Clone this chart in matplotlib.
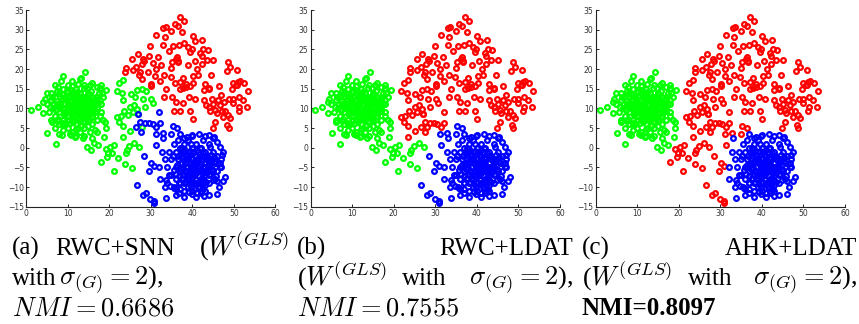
import matplotlib
matplotlib.use('Agg')
import matplotlib.pyplot as plt
import numpy as np

# point coordinates (same points in all three panels)
red_x = [37.1, 38.1, 35.8, 36.5, 33.6, 33.0, 35.0, 37.6, 31.4, 40.1, 33.4, 42.4, 40.7, 38.1, 36.9,
         29.9, 33.0, 35.4, 39.1, 39.9, 42.7, 43.7, 34.3, 39.5, 26.9, 29.6, 31.8, 36.4, 41.9, 42.3,
         25.5, 28.2, 28.4, 35.2, 36.6, 40.6, 43.5, 45.1, 42.3, 23.9, 25.7, 27.4, 29.3, 31.1, 33.2,
         34.8, 37.9, 40.3, 41.5, 48.6, 49.1, 50.9, 48.3, 27.2, 28.0, 30.2, 30.2, 32.2, 35.8, 37.1,
         38.6, 39.5, 40.3, 44.1, 46.4, 42.8, 44.1, 49.9, 51.0, 50.6, 51.5, 50.9, 52.5, 53.5, 33.8,
         37.1, 37.9, 38.5, 33.3, 35.1, 37.7, 40.7, 42.9, 44.8, 46.2, 43.3, 44.1, 45.1, 46.7, 47.6,
         48.9, 49.9, 51.3, 49.9, 51.3, 53.2, 51.2, 35.6, 37.1, 39.5, 40.1, 45.6, 47.1, 47.9, 48.7,
         49.1, 47.5, 45.5, 48.4, 48.8, 44.9, 45.9, 44.3, 36.2, 36.6, 26.5, 24.0,
         32.6, 34.9, 38.9, 41.2, 30.5, 27.8, 44.6, 46.9, 52.2, 49.6, 39.2, 36.0, 31.2, 43.0]
red_y = [33.1, 32.2, 31.4, 31.0, 30.8, 30.3, 29.7, 29.5, 28.6, 28.4, 28.2, 27.4, 27.0, 26.7, 26.1,
         25.9, 26.0, 25.8, 25.5, 25.1, 25.0, 24.8, 24.7, 24.4, 23.7, 23.4, 23.1, 23.0, 24.0, 23.3,
         22.5, 22.6, 22.0, 21.9, 22.1, 22.1, 22.3, 22.4, 21.4, 19.3, 19.7, 19.3, 19.2, 18.3, 18.5,
         17.9, 17.7, 18.1, 18.6, 21.8, 20.6, 19.8, 19.5, 18.4, 17.5, 15.8, 16.3, 16.9, 16.4, 16.6,
         16.3, 15.8, 16.5, 15.1, 15.6, 14.6, 14.8, 16.4, 16.6, 16.0, 17.0, 15.9, 16.5, 14.4, 14.8,
         14.8, 15.1, 15.5, 13.0, 13.0, 11.3, 12.5, 12.1, 12.4, 12.1, 10.8, 10.4, 11.1, 10.8, 11.7,
         12.5, 12.4, 13.0, 11.3, 10.4, 10.4, 9.2, 9.4, 9.4, 9.4, 7.2, 9.6, 9.4, 9.2, 8.3,
         7.5, 7.7, 6.5, 5.8, 4.9, 4.9, 8.7, 9.2, 22.5, 21.7, 20.5, 20.3,
         21.0, 20.2, 20.9, 19.9, 21.6, 21.2, 18.6, 13.4, 12.0, 14.9, 12.9, 11.6, 20.0, 16.2]

green_x = [6, 6.5, 7, 7, 7.5, 8, 8, 8, 8.5, 9, 9, 9, 9.5, 10, 10, 10, 10, 10.5, 10.5, 11,
           11, 11, 11, 11.5, 11.5, 12, 12, 12, 12, 12, 12.5, 12.5, 13, 13, 13, 13, 13.5, 13.5, 14, 14,
           14, 14, 14, 14.5, 15, 15, 15, 15, 15.5, 16, 16, 16, 16, 16.5, 17, 17, 17, 17.5, 18, 18,
           17, 15.5, 13, 11, 9, 7, 6, 5.5, 6, 7, 8.5, 11, 13, 15.5, 17, 18.5, 18.5, 16, 14, 12,
           10.5, 8, 5, 4.5, 9.5, 12.5, 15, 16.5, 7.5, 18,
           1.1, 2.8, 4.2, 5.0, 5.1, 7.1, 9.0, 14.2, 13.2, 16.0, 14.7, 15.6, 16.4, 17.3, 13.6, 18.8,
           19.2, 19.1, 19.3, 17.8, 18.2, 17.8, 10.8, 8.6, 11.8, 7.8, 4.2, 6.2,
           7.3, 8.2, 9.4, 10.7, 11.8, 12.9, 14.3, 15.6, 16.8, 7.8, 9.1, 10.3, 11.4, 12.6, 13.7, 14.9,
           16.2, 17.4, 8.6, 9.8, 10.9, 12.2, 13.4, 14.6, 15.8, 6.8, 8.9, 10.1, 11.3, 12.8, 13.9, 15.2,
           16.4, 9.3, 10.6, 11.7, 13.1, 14.4, 15.7, 7.6, 11.1, 12.4, 14.8, 10.2, 13.3, 8.3, 16.7, 17.8,
           5.8, 6.3,
           8.8, 9.7, 10.4, 11.2, 12.1, 13.2, 14.1, 15.3, 16.1, 9.2, 10.8, 11.9, 13.6, 14.7, 15.9, 8.1,
           9.9, 11.6, 12.7, 13.8, 15.1, 16.6, 10.3, 11.4, 12.3, 14.2, 7.2, 8.4, 9.6, 13.0, 14.5, 15.4,
           16.9, 10.9, 12.5, 11.0, 13.5, 9.0, 14.0, 12.0]
green_y = [12, 10, 8, 13, 11, 9, 14, 6, 12, 10, 7, 15, 13, 11, 8, 5, 16, 9, 13, 10,
           12, 7, 14, 9, 11, 10, 8, 13, 15, 6, 11, 9, 10, 12, 7, 14, 9, 11, 10, 8,
           13, 16, 5, 11, 9, 12, 7, 14, 10, 11, 8, 13, 6, 9, 10, 12, 7, 14, 9, 11,
           4, 4, 4, 4, 4.5, 5, 7, 9, 14, 16, 17, 17, 17.5, 16, 15.5, 13, 7, 2.5, 3, 3,
           3.5, 3.5, 11, 12.5, 6, 5, 5.5, 4.5, 14.5, 16,
           9.7, 10.4, 11.5, 14.0, 3.8, 0.9, 18.1, 19.2, 17.7, 16.4, 0.3, -0.6, 1.3, 0.8, 2.4, 2.8,
           4.9, 6.6, 14.7, 15.1, 13.9, 12.2, 3.2, 3.2, 2.8, 15.5, 8.7, 6.6,
           9.6, 11.3, 12.6, 8.7, 13.4, 10.8, 9.2, 11.7, 12.8, 7.4, 8.3, 10.4, 6.6, 9.4, 12.1, 10.3,
           9.7, 11.4, 13.6, 11.8, 14.7, 12.4, 8.4, 10.9, 7.8, 11.2, 5.7, 13.1, 9.7, 7.3, 15.2, 13.3,
           10.6, 9.1, 6.2, 11.6, 13.8, 7.7, 14.4, 6.9, 8.8, 16.2, 15.1, 14.2, 5.6, 10.7, 12.3, 8.1,
           10.3, 12.9,
           10.1, 12.2, 9.3, 11.1, 12.9, 11.6, 10.5, 8.6, 10.2, 8.9, 11.9, 9.8, 10.4, 12.6, 11.1, 12.9,
           14.4, 13.2, 7.6, 9.8, 13.7, 11.2, 7.1, 8.1, 14.1, 11.4, 9.5, 10.6, 9.0, 8.9, 7.3, 12.2,
           9.4, 10.5, 12.0, 15.6, 13.0, 6.3, 6.8, 4.8]

blue_x = [35, 35, 35.5, 35.5, 36, 36, 36, 36.5, 36.5, 37, 37, 37, 37.5, 37.5, 38, 38, 38, 38.5, 38.5,
          39, 39, 39, 39.5, 39.5, 40, 40, 40, 40, 40.5, 40.5, 41, 41, 41, 41.5, 41.5, 42, 42, 42,
          42.5, 42.5, 43, 43, 43, 43, 43.5, 44, 44, 44, 44.5, 45, 45, 45.5, 45.5, 46, 46, 47, 47,
          34.5, 34, 34, 33.5, 36, 38, 41, 42, 44, 46.5, 47.5, 47.5, 46, 45, 43, 40, 38, 37, 36,
          34.5, 39, 41, 43, 37, 44, 38,
          41.6, 39.9, 38.7, 44.1, 45.3, 44.3, 46.7, 47.1, 46.8, 48.0, 46.0, 46.0, 42.8, 41.1,
          39.9, 36.8, 35.7,
          36.3, 37.4, 38.6, 39.7, 40.8, 41.9, 43.1, 44.3, 45.4, 36.8, 37.9, 39.2, 40.3, 41.4, 42.7,
          43.8, 44.9, 46.2, 35.6, 38.1, 39.4, 40.6, 41.7, 42.9, 44.1, 37.2, 38.4, 39.8, 41.1, 42.3,
          43.6, 36.1, 37.6, 40.1, 42.1, 44.6, 45.8, 39.1, 41.3, 38.8, 40.7, 43.3, 35.3, 46.7, 37.8,
          42.6, 39.6, 41.8, 44.4, 40.4,
          37.3, 38.2, 39.3, 40.2, 41.2, 42.2, 43.2, 44.2, 38.7, 39.9, 40.9, 41.6, 42.4, 43.4, 37.7,
          39.0, 40.0, 41.0, 42.0, 43.9, 36.6, 38.4, 39.5, 40.5, 41.5, 42.5, 44.8, 45.2, 36.9, 38.9,
          40.9, 42.8, 37.5, 39.7, 41.9, 43.5, 40.2, 38.1, 42.2, 39.3]
blue_y = [-3, -7, 1, -10, -1, -5, -8, 2, -3, -6, 0, -9, -2, -4, 1, -7, -11, -3, -5,
          -1, -8, 2, -4, -6, 0, -3, -9, -11, -5, -7, -2, 1, -4, -6, -10, -3, 0, -8,
          -5, 2, -1, -4, -7, -11, -2, -5, -9, 1, -3, -6, -1, -8, -4, -2, -6, -5, -3,
          -1, -5, -9, -3, -12, -12.5, -12.5, -11.5, -12, -10, -8.5, -1, 1.5, 2.5, 3, 3.3, 2.5, 3.5, -10.5,
          -7, -10, -9, -9.5, -10.5, -7, -9,
          3.6, 3.0, 2.8, 3.2, 2.8, 0.3, 0.3, -1.9, -4.0, -7.4, -8.4, -11.8, -12.3, -11.6,
          -11.8, -11.4, -10.2,
          -4.3, -1.6, -6.2, -2.7, -8.1, -4.6, -2.3, -6.8, -3.4, -7.2, -5.1, -3.6, -5.8, -1.2, -6.4,
          -5.3, -8.3, -4.1, -5.7, -0.4, -9.2, -1.8, -7.3, -2.1, -3.7, -3.9, -8.6, -5.2, -0.7, -9.6,
          -5.9, -6.6, -7.8, -4.4, -5.6, -1.9, -7.1, -2.6, -3.1, -6.7, -10.2, -8.7, -2.2, -4.8, -1.1,
          -10.4, 0.9, -0.2, -3.3, -6.1,
          -5.5, -4.0, -7.1, -4.9, -3.3, -6.0, -5.0, -3.8, -2.0, -6.9, -5.6, -2.6, -7.7, -3.0, -8.0,
          -3.1, -8.8, -6.5, -4.2, -4.5, -2.1, -5.9, -0.9, -6.6, -8.9, -1.4, -5.3, -2.4, -9.1, -7.7,
          -3.7, -8.1, -0.2, -9.9, -9.1, -6.1, -1.1, -1.0, -10.9, -11.3]

# points whose cluster changes between methods: labels for (a), (b), (c)
tail_x = [23.4, 22.4, 21.8, 23.2, 25.2, 26.8, 28.0, 28.9, 26.2, 28.2, 30.1, 23.3, 30.6, 25.0,
          26.1, 26.8, 28.7, 23.7, 21.8, 22.8, 24.5, 25.7, 27.0, 22.5, 23.3, 25.0, 23.3, 27.9,
          20.2, 21.2, 19.2, 19.8, 20.7, 19.6, 18.0, 22.2, 24.0, 24.2, 24.9, 26.0, 27.2, 23.9,
          25.5, 21.1,
          32.1, 27.0, 27.4, 28.6, 29.7, 30.5, 31.4, 32.2, 26.5, 27.6, 31.2, 32.9, 35.3, 36.4,
          35.0, 33.0, 31.4, 32.8, 28.4, 30.2, 30.8, 32.0, 29.6, 32.2, 26.6, 28.8, 28.1, 29.9,
          30.8, 30.9, 33.8, 33.5, 34.7, 33.7]
tail_y = [17.2, 16.4, 14.5, 14.0, 13.6, 14.7, 14.8, 14.3, 13.0, 12.5, 12.4, 12.1, 11.3, 10.4,
          10.8, 9.9, 10.4, 9.2, 7.9, 8.1, 8.3, 9.0, 8.5, 6.6, 5.4, 4.3, 2.8, 5.3,
          0.3, 0.6, -0.4, -1.4, -1.3, -2.3, -3.7, -2.5, -1.4, -0.6, 0.5, 1.1, 0.3, -4.2,
          -5.1, -5.8,
          9.0, 8.6, 6.6, 6.4, 6.2, 5.9, 5.3, 6.4, 5.3, 4.0, 3.4, 3.8, 5.5, 4.9,
          3.6, 2.4, 0.7, -1.0, -2.0, -4.0, -4.6, -5.0, -5.8, -8.0, -9.6, -11.4, -12.0, -13.0,
          -13.5, -14.1, -12.9, -9.9, -9.7, -8.2]
tail_a = 'g' * 44 + 'b' * 34
tail_b = 'r' * 28 + 'g' * 16 + 'r' * 10 + 'b' * 24
tail_c = 'r' * 44 + 'rrrrrrrrrr' + 'rrrrr' + 'brbrrrbrbrrrrrrbbbb'

# caption pieces: (text, x in px, line, align, size, bold)
captions = [
    ('(a)', 12, 0, 'left', 18, False), ('RWC+SNN', 55, 0, 'left', 18, False),
    ('($W^{(GLS)}$', 289, 0, 'right', 19, False),
    ('with', 12, 1, 'left', 18, False), ('$\\sigma_{(G)} = 2$),', 59, 1, 'left', 19, False),
    ('$NMI = 0.6686$', 12, 2, 'left', 19, False),
    ('(b)', 297, 0, 'left', 18, False), ('RWC+LDAT', 573, 0, 'right', 18, False),
    ('($W^{(GLS)}$', 297, 1, 'left', 19, False), ('with', 402, 1, 'left', 18, False),
    ('$\\sigma_{(G)} = 2$),', 573, 1, 'right', 19, False),
    ('$NMI = 0.7555$', 297, 2, 'left', 19, False),
    ('(c)', 582, 0, 'left', 18, False), ('AHK+LDAT', 857, 0, 'right', 18, False),
    ('($W^{(GLS)}$', 582, 1, 'left', 19, False), ('with', 688, 1, 'left', 18, False),
    ('$\\sigma_{(G)} = 2$),', 857, 1, 'right', 19, False),
    ('NMI=0.8097', 582, 2, 'left', 18, True),
]

plt.rcParams['font.family'] = ['Liberation Serif', 'DejaVu Serif']
plt.rcParams['mathtext.fontset'] = 'cm'

colours = {'r': (1, 0, 0), 'g': (0, 1, 0), 'b': (0, 0, 1)}

fig = plt.figure(figsize=(8.59, 3.24), dpi=100)
lefts = [26 / 859, 310.7 / 859, 595.7 / 859]
text_y = [1 - 255 / 324, 1 - 285 / 324, 1 - 315 / 324]


def draw(ax, labels):
    tx = np.array(tail_x)
    ty = np.array(tail_y)
    lab = np.array(list(labels))
    pts = {'r': (list(red_x) + list(tx[lab == 'r']), list(red_y) + list(ty[lab == 'r'])),
           'g': (list(green_x) + list(tx[lab == 'g']), list(green_y) + list(ty[lab == 'g'])),
           'b': (list(blue_x) + list(tx[lab == 'b']), list(blue_y) + list(ty[lab == 'b']))}
    for k in ['r', 'g', 'b']:
        ax.plot(pts[k][0], pts[k][1], 'o', ls='none', mfc='none', mec=colours[k],
                ms=3.4, mew=1.6)
    ax.set_xlim(0, 60)
    ax.set_ylim(-15, 35)
    ax.set_xticks(range(0, 61, 10))
    ax.set_yticks(range(-15, 36, 5))
    ax.tick_params(direction='in', length=2, width=0.6, labelsize=5.5,
                   labelcolor='#333333', pad=1.5)
    for s in ['top', 'right']:
        ax.spines[s].set_visible(False)
    for s in ['left', 'bottom']:
        ax.spines[s].set_linewidth(0.8)
        ax.spines[s].set_color('#222222')
    for t in ax.get_xticklabels() + ax.get_yticklabels():
        t.set_fontfamily('DejaVu Sans')


for i, labels in enumerate([tail_a, tail_b, tail_c]):
    ax = fig.add_axes([lefts[i], 117.3 / 324, 249.3 / 859, 196.7 / 324])
    draw(ax, labels)

for txt, px, line, align, size, bold in captions:
    fig.text(px / 859, text_y[line], txt, fontsize=size, ha=align, va='baseline',
             fontweight='bold' if bold else 'normal')

fig.savefig('out.png', dpi=100)
